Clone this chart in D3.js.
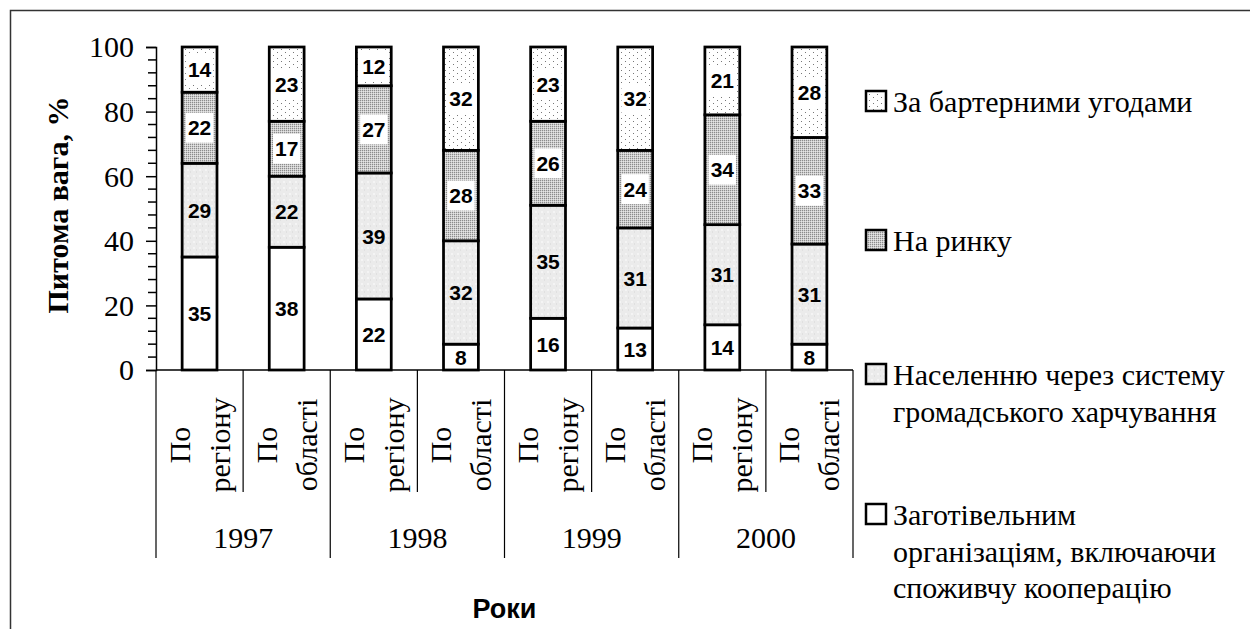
<!DOCTYPE html>
<html>
<head>
<meta charset="utf-8">
<script src="https://cdn.jsdelivr.net/npm/d3@7"></script>
<style>
  svg text { font-family: "Liberation Serif" !important; }
  svg text.sans { font-family: "Liberation Sans" !important; font-weight: bold; }
</style>
</head>
<body style="margin:0">
<script>
// data, bottom -> top of each stack
var years = ['1997', '1998', '1999', '2000'];
var subCats = [['По', 'регіону'], ['По', 'області']];
var seriesNames = [
    ['Заготівельним', 'організаціям, включаючи', 'споживчу кооперацію'],
    ['Населенню через систему', 'громадського харчування'],
    ['На ринку'],
    ['За бартерними угодами']
];
var procurement = [35, 38, 22, 8, 16, 13, 14, 8];
var catering    = [29, 22, 39, 32, 35, 31, 31, 31];
var market      = [22, 17, 27, 28, 26, 24, 34, 33];
var barter      = [14, 23, 12, 32, 23, 32, 21, 28];
var yTicks = [0, 20, 40, 60, 80, 100];

(function () {

    var W = 1250, H = 629;
    var x0 = 156, x1 = 853, y0 = 370, y1 = 47;

    var svg = d3.select('body').append('svg')
        .attr('width', W).attr('height', H);

    var defs = svg.append('defs');

    // light grey, slightly mottled
    var p1 = defs.append('pattern').attr('id', 'pat1')
        .attr('patternUnits', 'userSpaceOnUse').attr('width', 6).attr('height', 6);
    p1.append('rect').attr('width', 6).attr('height', 6).attr('fill', '#ebebeb');
    p1.append('rect').attr('x', 1).attr('y', 1).attr('width', 2).attr('height', 2).attr('fill', '#f4f4f4');
    p1.append('rect').attr('x', 4).attr('y', 3).attr('width', 1).attr('height', 2).attr('fill', '#e0e0e0');

    // dense dots
    var p2 = defs.append('pattern').attr('id', 'pat2')
        .attr('patternUnits', 'userSpaceOnUse').attr('width', 2).attr('height', 2);
    p2.append('rect').attr('width', 2).attr('height', 2).attr('fill', '#cdcdcd');
    p2.append('rect').attr('width', 1).attr('height', 1).attr('fill', '#8c8c8c');
    p2.append('rect').attr('x', 1).attr('y', 1).attr('width', 1).attr('height', 1).attr('fill', '#e6e6e6');

    // sparse dots
    var p3 = defs.append('pattern').attr('id', 'pat3')
        .attr('patternUnits', 'userSpaceOnUse').attr('width', 8).attr('height', 6);
    p3.append('rect').attr('width', 8).attr('height', 6).attr('fill', '#fff');
    p3.append('rect').attr('x', 1).attr('y', 1).attr('width', 1).attr('height', 1).attr('fill', '#777');
    p3.append('rect').attr('x', 5).attr('y', 4).attr('width', 1).attr('height', 1).attr('fill', '#777');

    var fills = ['#fff', 'url(#pat1)', 'url(#pat2)', 'url(#pat3)'];
    var boxed = [false, false, true, true];

    // chart border
    svg.append('rect')
        .attr('x', 10.5).attr('y', 10.5).attr('width', 1400).attr('height', 800)
        .attr('fill', 'none').attr('stroke', '#333').attr('stroke-width', 1.5);

    var cats = d3.range(8);
    var x = d3.scaleBand().domain(cats).range([x0, x1])
        .paddingInner(0.6).paddingOuter(0.3);
    var y = d3.scaleLinear().domain([0, 100]).range([y0, y1]);

    var rows = cats.map(function (i) {
        return { procurement: procurement[i], catering: catering[i], market: market[i], barter: barter[i] };
    });
    var stacked = d3.stack().keys(['procurement', 'catering', 'market', 'barter'])(rows);

    // y axis
    var gy = svg.append('g').attr('transform', 'translate(' + x0 + ',0)')
        .call(d3.axisLeft(y).tickValues(yTicks).tickSize(10).tickPadding(12));
    gy.attr('font-family', null).attr('font-size', 30);
    gy.select('.domain').attr('stroke', '#000').attr('stroke-width', 1.5);
    gy.selectAll('.tick line').attr('stroke', '#000').attr('stroke-width', 1.5);
    gy.selectAll('.tick text').attr('fill', '#000').attr('dy', '0.33em');

    var minor = d3.range(0, 101, 4).filter(function (v) { return v % 20 !== 0; });
    svg.append('g').selectAll('line').data(minor).enter().append('line')
        .attr('x1', x0 - 8).attr('x2', x0)
        .attr('y1', function (d) { return y(d); }).attr('y2', function (d) { return y(d); })
        .attr('stroke', '#000').attr('stroke-width', 1.5);

    // bars
    var layers = svg.append('g').selectAll('g').data(stacked).enter().append('g')
        .attr('fill', function (d) { return fills[d.index]; });
    layers.selectAll('rect').data(function (d) { return d; }).enter().append('rect')
        .attr('x', function (d, i) { return x(i); })
        .attr('width', x.bandwidth())
        .attr('y', function (d) { return y(d[1]); })
        .attr('height', function (d) { return y(d[0]) - y(d[1]); })
        .attr('stroke', '#000').attr('stroke-width', 2.75);

    // value labels
    var lab = svg.append('g');
    stacked.forEach(function (layer, li) {
        layer.forEach(function (d, i) {
            var txt = String(d[1] - d[0]);
            var cx = x(i) + x.bandwidth() / 2;
            var cy = y((d[0] + d[1]) / 2);
            if (boxed[li]) {
                var w = txt.length * 11.7 + 4;
                lab.append('rect')
                    .attr('x', cx - w / 2).attr('y', cy - 15)
                    .attr('width', w).attr('height', 30).attr('fill', '#fff');
            }
            lab.append('text').attr('class', 'sans')
                .attr('font-size', 21)
                .attr('x', cx).attr('y', cy).attr('dy', '0.36em')
                .attr('text-anchor', 'middle')
                .text(txt);
        });
    });

    // category axis
    var step = x.step();
    svg.append('line')
        .attr('x1', x0).attr('x2', x1).attr('y1', y0).attr('y2', y0)
        .attr('stroke', '#000').attr('stroke-width', 1.5);
    var ax = svg.append('g').attr('font-size', 30);
    d3.range(9).forEach(function (k) {
        var xx = x0 + k * step;
        ax.append('line')
            .attr('x1', xx).attr('x2', xx)
            .attr('y1', y0).attr('y2', k % 2 === 0 ? 558 : 492)
            .attr('stroke', '#000').attr('stroke-width', 1.2);
    });
    cats.forEach(function (i) {
        var cx = x(i) + x.bandwidth() / 2;
        var t = ax.append('text')
            .attr('transform', 'translate(' + cx + ',445) rotate(-90)')
            .attr('text-anchor', 'middle');
        var lines = subCats[i % 2];
        t.append('tspan').attr('x', 0).attr('y', -10).text(lines[0]);
        t.append('tspan').attr('x', 0).attr('y', 30).text(lines[1]);
    });
    years.forEach(function (yr, g) {
        ax.append('text')
            .attr('x', x0 + (2 * g + 1) * step).attr('y', 548)
            .attr('text-anchor', 'middle')
            .text(yr);
    });

    // axis titles
    svg.append('text').attr('class', 'sans')
        .attr('font-size', 27)
        .attr('x', (x0 + x1) / 2).attr('y', 618)
        .attr('text-anchor', 'middle')
        .text('Роки');
    svg.append('text')
        .attr('font-size', 30).attr('font-weight', 'bold')
        .attr('transform', 'translate(68,205) rotate(-90)')
        .attr('text-anchor', 'middle')
        .text('Питома вага, %');

    // legend (top entry first)
    var legY = [101, 240, 374, 514];
    var leg = svg.append('g');
    [3, 2, 1, 0].forEach(function (s, k) {
        var cy = legY[k];
        leg.append('rect')
            .attr('x', 866).attr('y', cy - 10).attr('width', 20).attr('height', 20)
            .attr('fill', fills[s]).attr('stroke', '#000').attr('stroke-width', 2.5);
        var t = leg.append('text').attr('font-size', 30);
        seriesNames[s].forEach(function (line, j) {
            t.append('tspan').attr('x', 893).attr('y', cy + 11 + j * 36.5).text(line);
        });
    });

})();
</script>
</body>
</html>
